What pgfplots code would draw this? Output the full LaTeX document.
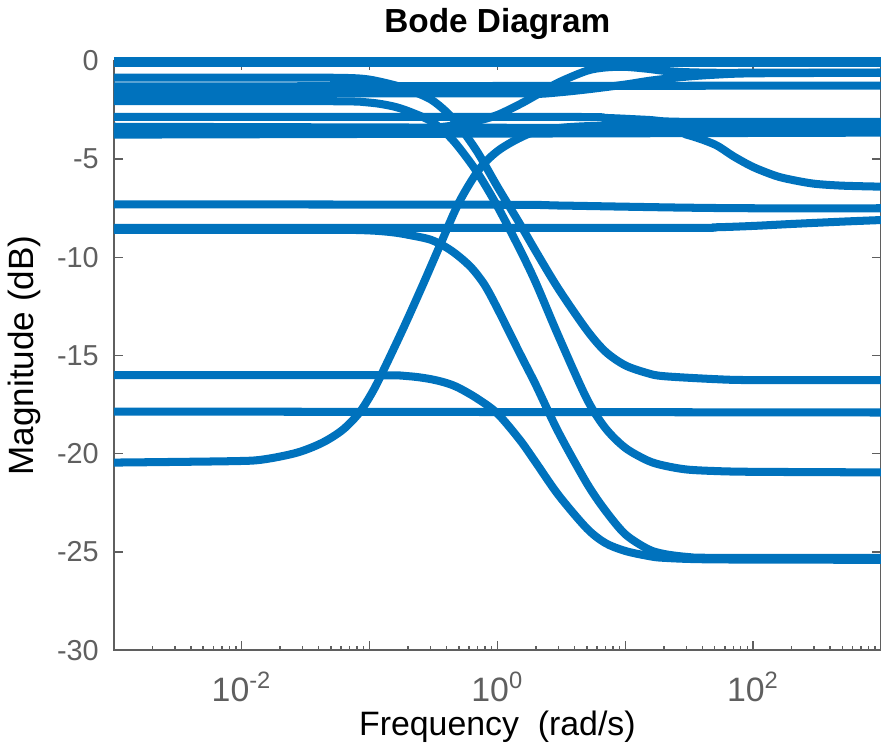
\documentclass[border=0pt]{standalone}
\usepackage{fontspec}
\setmainfont{Liberation Sans}
\usepackage{pgfplots}
\pgfplotsset{compat=1.18}
\definecolor{mblue}{RGB}{0,114,189}
\definecolor{axgray}{RGB}{95,95,95}

\begin{document}
\begin{tikzpicture}[trim axis right]
\begin{axis}[
  scale only axis,
  width=306pt, height=235pt,
  xmode=log, xmin=1e-3, xmax=1e3,
  ymin=-30, ymax=0,
  xtick={1e-3,1e-2,1e-1,1,1e1,1e2,1e3},
  xticklabels={,10\textsuperscript{-2},,10\textsuperscript{0},,10\textsuperscript{2},},
  ytick={-30,-25,-20,-15,-10,-5,0},
  yticklabels={-30,-25,-20,-15,-10,-5,0},
  axis line style={axgray, line width=0.6pt},
  every tick/.style={axgray, line width=0.6pt},
  major tick length=3.6pt, minor tick length=1.8pt,
  xticklabel style={font=\fontsize{13.5}{15}\selectfont, text=axgray, yshift=-5pt},
  yticklabel style={font=\fontsize{11.5}{13}\selectfont, text=axgray, xshift=-2.5pt},
  title={\textbf{Bode Diagram}},
  title style={font=\fontsize{13.3}{15}\selectfont, yshift=-1pt},
  xlabel={Frequency\ \ (rad/s)},
  ylabel={Magnitude (dB)},
  xlabel style={font=\fontsize{13.5}{15}\selectfont, yshift=3pt},
  ylabel style={font=\fontsize{14}{16}\selectfont, yshift=-0.5pt},
  clip=false,
  bd/.style={mblue, line width=3.2pt, smooth, no marks},
]

% flat lines near 0
\addplot[bd] coordinates {(0.001,-0.02) (1000,-0.02)};
\addplot[bd] coordinates {(0.001,-0.12) (1000,-0.12)};
% flat -1.3
\addplot[bd] coordinates {(0.001,-1.3) (1000,-1.25)};
% slow rise -1.65 -> -0.6
\addplot[bd] coordinates {(0.001,-1.65) (1,-1.65) (2,-1.68) (3,-1.6) (5,-1.45) (10,-1.2) (15,-1.02) (20,-0.92) (30,-0.8) (50,-0.7) (100,-0.63) (1000,-0.6)};
% fall -0.85 -> -16.2
\addplot[bd] coordinates {(0.001,-0.85) (0.03,-0.85) (0.07,-0.87) (0.1,-0.95) (0.15,-1.2) (0.2,-1.45) (0.3,-1.95) (0.4,-2.6) (0.5,-3.3) (0.7,-4.65) (1,-6.4) (1.5,-8.3) (2,-9.7) (3,-11.6) (5,-13.7) (7,-14.8) (10,-15.5) (15,-15.9) (20,-16.05) (50,-16.2) (100,-16.25) (1000,-16.25)};
% fall -2.05 -> -20.9
\addplot[bd] coordinates {(0.001,-2.05) (0.05,-2.05) (0.1,-2.12) (0.15,-2.3) (0.2,-2.55) (0.3,-3.05) (0.4,-3.7) (0.5,-4.4) (0.7,-5.7) (1,-7.4) (1.5,-9.6) (2,-11.3) (3,-14.0) (5,-17.2) (7,-18.7) (10,-19.7) (15,-20.35) (20,-20.6) (30,-20.8) (50,-20.88) (100,-20.92) (1000,-20.95)};
% -2.85 line
\addplot[bd] coordinates {(0.001,-2.85) (3,-2.85) (7,-2.9) (15,-3.0) (30,-3.1) (1000,-3.1)};
% rise -3.55 -> -0.6
\addplot[bd] coordinates {(0.001,-3.55) (0.1,-3.55) (0.2,-3.5) (0.3,-3.42) (0.5,-3.25) (0.7,-3.05) (1,-2.75) (1.5,-2.2) (2,-1.75) (3,-1.1) (5,-0.5) (7,-0.33) (10,-0.3) (15,-0.4) (20,-0.5) (30,-0.57) (50,-0.6) (100,-0.6) (1000,-0.6)};
% -3.65 -> -6.4
\addplot[bd] coordinates {(0.001,-3.65) (20,-3.65) (30,-3.75) (50,-4.25) (70,-4.85) (100,-5.4) (150,-5.85) (200,-6.05) (300,-6.25) (500,-6.35) (1000,-6.4)};
% band lines
\addplot[bd] coordinates {(0.001,-3.35) (1000,-3.45)};
\addplot[bd] coordinates {(0.001,-3.75) (1000,-3.65)};
% -7.3 line
\addplot[bd] coordinates {(0.001,-7.3) (1,-7.32) (3,-7.36) (10,-7.42) (30,-7.47) (100,-7.5) (1000,-7.5)};
% -8.5 line
\addplot[bd] coordinates {(0.001,-8.5) (20,-8.5) (50,-8.47) (100,-8.4) (200,-8.3) (500,-8.18) (1000,-8.1)};
% fall -8.6 -> -25.3
\addplot[bd] coordinates {(0.001,-8.6) (0.05,-8.6) (0.1,-8.63) (0.15,-8.72) (0.2,-8.85) (0.3,-9.1) (0.4,-9.5) (0.5,-9.95) (0.631,-10.55) (0.794,-11.4) (1,-12.6) (1.5,-14.9) (2,-16.5) (3,-18.9) (5,-21.5) (7,-22.9) (10,-24.1) (15,-24.85) (20,-25.1) (30,-25.25) (50,-25.3) (1000,-25.3)};
% fall -16 -> -25.4
\addplot[bd] coordinates {(0.001,-16.0) (0.1,-16.0) (0.2,-16.05) (0.3,-16.2) (0.4,-16.4) (0.5,-16.65) (0.7,-17.2) (1,-17.95) (1.5,-19.3) (2,-20.45) (3,-22.1) (5,-23.8) (7,-24.55) (10,-24.95) (15,-25.2) (20,-25.3) (50,-25.38) (1000,-25.4)};
% flat -17.85
\addplot[bd] coordinates {(0.001,-17.85) (1000,-17.9)};
% rise -20.45 -> -3.3
\addplot[bd] coordinates {(0.001,-20.45) (0.00813,-20.38) (0.01445,-20.3) (0.0269,-19.95) (0.0427,-19.44) (0.0617,-18.78) (0.0832,-17.91) (0.1047,-16.89) (0.1259,-15.87) (0.182,-13.67) (0.257,-11.5) (0.355,-9.4) (0.501,-7.2) (0.724,-5.5) (1.047,-4.5) (1.778,-3.7) (3,-3.42) (5,-3.32) (10,-3.28) (100,-3.3) (1000,-3.3)};

\end{axis}
\end{tikzpicture}
\end{document}
